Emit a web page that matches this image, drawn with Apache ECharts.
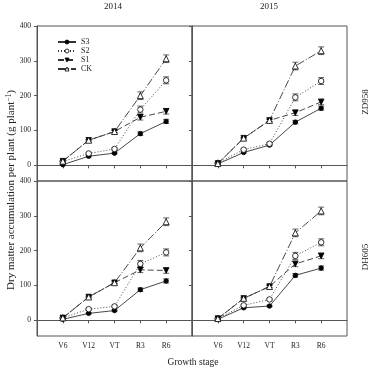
<!DOCTYPE html>
<html>
<head>
<meta charset="utf-8">
<script src="https://cdn.jsdelivr.net/npm/echarts@6/dist/echarts.min.js"></script>
<style>
  html, body { margin: 0; padding: 0; background: #fff; }
  #chart { width: 370px; height: 370px; }
</style>
</head>
<body>
<div id="chart"></div>
<script>
// growth stages on the x axis
const stages = ['V6', 'V12', 'VT', 'R3', 'R6'];
const years = ['2014', '2015'];
const hybrids = ['ZD958', 'DH605'];
const treatments = ['S3', 'S2', 'S1', 'CK'];
const yTicks = [0, 100, 200, 300, 400];

// dry matter (g plant-1), one array per treatment and panel
// ZD958 2014
const zd2014S3 = [2, 26, 35, 91, 126];
const zd2014S2 = [11, 34, 47, 160, 244];
const zd2014S1 = [12, 72, 97, 138, 155];
const zd2014CK = [12, 72, 97, 200, 306];
// ZD958 2015
const zd2015S3 = [4, 37, 58, 124, 164];
const zd2015S2 = [7, 45, 62, 195, 242];
const zd2015S1 = [5, 78, 129, 151, 182];
const zd2015CK = [5, 78, 129, 285, 329];
// DH605 2014
const dh2014S3 = [3, 20, 28, 88, 113];
const dh2014S2 = [7, 32, 40, 162, 195];
const dh2014S1 = [7, 67, 108, 145, 143];
const dh2014CK = [7, 67, 108, 208, 283];
// DH605 2015
const dh2015S3 = [3, 36, 41, 129, 150];
const dh2015S2 = [5, 43, 60, 185, 224];
const dh2015S1 = [5, 63, 97, 162, 185];
const dh2015CK = [5, 63, 97, 251, 314];

// standard errors, same layout
const errS3 = [1, 2, 2, 5, 6];
const errS2 = [1, 2, 3, 10, 10];
const errS1 = [1, 2, 3, 8, 8];
const errCK = [1, 2, 3, 11, 11];

const panels = [
  [zd2014S3, zd2014S2, zd2014S1, zd2014CK],
  [zd2015S3, zd2015S2, zd2015S1, zd2015CK],
  [dh2014S3, dh2014S2, dh2014S1, dh2014CK],
  [dh2015S3, dh2015S2, dh2015S1, dh2015CK]
];
const errs = [errS3, errS2, errS1, errCK];

const FONT = '"Liberation Serif", "DejaVu Serif", serif';
const INK = '#222';
const LINE = '#333';

// filled / open markers: open ones get a white fill and a thin black edge
const styles = [
  { symbol: 'circle', size: 4.5, rotate: 0, fill: '#000', line: 'solid' },
  { symbol: 'circle', size: 5.5, rotate: 0, fill: '#fff', line: [1, 2] },
  { symbol: 'triangle', size: 5.5, rotate: 180, fill: '#000', line: [6, 3] },
  { symbol: 'triangle', size: 6, rotate: 0, fill: '#fff', line: [8, 2, 1, 2] }
];

const gridPos = [
  { left: 37, top: 26 },
  { left: 192, top: 26 },
  { left: 37, top: 181 },
  { left: 192, top: 181 }
];

const grids = gridPos.map(p => ({
  left: p.left, top: p.top, width: 155, height: 155,
  show: true, borderColor: '#555', borderWidth: 1, backgroundColor: 'transparent'
}));

const xAxes = gridPos.map((p, i) => ({
  gridIndex: i, type: 'value', min: 0, max: 6,
  axisLine: { show: true, lineStyle: { color: '#555' } },
  axisTick: { show: true, inside: false, length: 3, customValues: [1, 2, 3, 4, 5], lineStyle: { color: '#555' } },
  axisLabel: {
    show: i >= 2, customValues: [1, 2, 3, 4, 5],
    formatter: v => stages[v - 1] || '',
    fontFamily: FONT, fontSize: 7.5, color: INK, margin: 6
  },
  splitLine: { show: false }
}));

const yAxes = gridPos.map((p, i) => ({
  gridIndex: i, type: 'value', min: -45, max: 400,
  axisLine: { show: true, lineStyle: { color: '#555' } },
  axisTick: { show: true, inside: false, length: 3, customValues: yTicks, lineStyle: { color: '#555' } },
  axisLabel: {
    show: i % 2 === 0, customValues: yTicks,
    fontFamily: FONT, fontSize: 7.5, color: INK, margin: 6
  },
  splitLine: { show: false }
}));

const series = [];
panels.forEach((panel, pi) => {
  panel.forEach((vals, si) => {
    const st = styles[si];
    series.push({
      name: treatments[si], type: 'line',
      xAxisIndex: pi, yAxisIndex: pi,
      data: vals.map((v, k) => [k + 1, v]),
      symbol: st.symbol, symbolSize: st.size, symbolRotate: st.rotate,
      showAllSymbol: true,
      lineStyle: { color: LINE, width: 0.9, type: st.line },
      itemStyle: { color: st.fill, borderColor: '#000', borderWidth: 0.8 },
      z: 3,
      animation: false
    });
    series.push({
      type: 'custom', xAxisIndex: pi, yAxisIndex: pi,
      data: vals.map((v, k) => [k + 1, v, errs[si][k]]),
      renderItem: (params, api) => {
        const x = api.value(0), y = api.value(1), e = api.value(2);
        const hi = api.coord([x, y + e]);
        const lo = api.coord([x, y - e]);
        const w = 3;
        const s = { stroke: '#222', lineWidth: 0.7 };
        return {
          type: 'group',
          children: [
            { type: 'line', shape: { x1: hi[0], y1: hi[1], x2: lo[0], y2: lo[1] }, style: s },
            { type: 'line', shape: { x1: hi[0] - w, y1: hi[1], x2: hi[0] + w, y2: hi[1] }, style: s },
            { type: 'line', shape: { x1: lo[0] - w, y1: lo[1], x2: lo[0] + w, y2: lo[1] }, style: s }
          ]
        };
      },
      z: 2,
      silent: true,
      animation: false
    });
  });
});

const legendData = treatments.map((name, i) => ({
  name: name,
  itemStyle: { color: styles[i].fill, borderColor: '#000', borderWidth: 0.8 }
}));

const chart = echarts.init(document.getElementById('chart'), null, { renderer: 'canvas' });
chart.setOption({
  backgroundColor: '#fff',
  animation: false,
  grid: grids,
  xAxis: xAxes,
  yAxis: yAxes,
  legend: {
    data: legendData,
    orient: 'vertical',
    left: 52, top: 33,
    itemWidth: 18, itemHeight: 5, itemGap: 1,
    textStyle: { fontFamily: FONT, fontSize: 8, color: INK },
    selectedMode: false
  },
  graphic: [
    { type: 'text', left: 113 - 9, top: 2, style: { text: years[0], font: '9px ' + FONT, fill: INK } },
    { type: 'text', left: 269 - 9, top: 2, style: { text: years[1], font: '9px ' + FONT, fill: INK } },
    { type: 'text', x: 366, y: 102, rotation: Math.PI / 2,
      style: { text: hybrids[0], font: '9px ' + FONT, fill: INK, align: 'center', verticalAlign: 'middle' } },
    { type: 'text', x: 366, y: 257, rotation: Math.PI / 2,
      style: { text: hybrids[1], font: '9px ' + FONT, fill: INK, align: 'center', verticalAlign: 'middle' } },
    { type: 'text', x: 11, y: 190, rotation: Math.PI / 2,
      style: {
        text: '{n|Dry matter accumulation per plant (g plant}{s|\u22121}{n|)}',
        align: 'center', verticalAlign: 'middle',
        rich: {
          n: { fontFamily: FONT, fontSize: 11, fill: INK, color: INK, verticalAlign: 'bottom' },
          s: { fontFamily: FONT, fontSize: 7.5, fill: INK, color: INK, verticalAlign: 'top' }
        }
      } },
    { type: 'text', x: 193, y: 362,
      style: { text: 'Growth stage', font: '9.5px ' + FONT, fill: INK, align: 'center', verticalAlign: 'middle' } }
  ],
  series: series
});
</script>
</body>
</html>
